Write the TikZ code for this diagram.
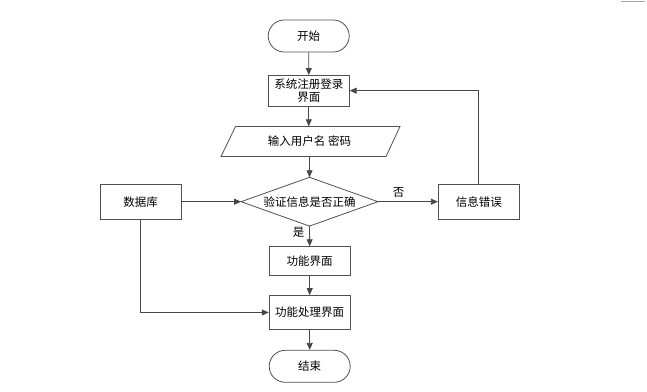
\documentclass[tikz,border=0pt]{standalone}
\usepackage{fontspec}
\setmainfont{Noto Sans CJK SC}
\usetikzlibrary{arrows.meta}
\definecolor{linec}{HTML}{474747}
\definecolor{boxc}{HTML}{505050}
\tikzset{
  box/.style={draw=boxc, line width=0.8pt, minimum width=81pt, inner sep=0pt, font=\fontsize{11.5}{15}\selectfont, align=center},
  term/.style={box, rounded corners=16pt, minimum height=32pt},
  conn/.style={draw=linec, line width=0.8pt, -{Triangle[length=7pt,width=6pt]}},
  lbl/.style={font=\fontsize{11.5}{13}\selectfont, inner sep=0pt}
}
\begin{document}
\begin{tikzpicture}[x=1pt,y=-1pt]
\useasboundingbox (0,0) rectangle (647,391);
\node[term] (start) at (308.7,36) {开始};
\node[box, minimum height=31pt, text width=78pt] (login) at (308.8,91) {系统注册登录\\[-2pt]界面};
\node[font=\fontsize{11.5}{13}\selectfont, minimum width=165pt, minimum height=30pt, inner sep=0pt] (input) at (309.5,141.5) {输入用户名 密码};
\draw[draw=boxc, line width=0.8pt] (235.5,126.5) -- (400,126.5) -- (386,156.5) -- (221,156.5) -- cycle;
\node[box, draw=none, minimum width=136pt, minimum height=48pt] (dec) at (309.5,201.7) {验证信息是否正确};
\draw[draw=boxc, line width=0.8pt] (dec.west) -- (dec.north) -- (dec.east) -- (dec.south) -- cycle;
\node[box, minimum height=35pt] (db) at (140.5,201.7) {数据库};
\node[box, minimum height=35pt] (err) at (478.8,201.7) {信息错误};
\node[box, minimum height=29pt] (func) at (309.7,261.2) {功能界面};
\node[box, minimum height=34pt] (proc) at (309.7,312.5) {功能处理界面};
\node[term] (end) at (309.7,366.3) {结束};
\coordinate (errtop) at (err.north);
\coordinate (c1) at (478.8,90.7);
\coordinate (c2) at (140.7,312.5);

\draw[conn] (start) -- (login);
\draw[conn] (login.south) -- (login.south |- input.north);
\draw[conn] (input.south -| dec.north) -- (dec.north);
\draw[conn] (db.east) -- (dec.west);
\draw[conn] (dec.east) -- (err.west);
\draw[conn] (errtop) -- (c1) -- (login.east |- c1);
\draw[conn] (dec.south) -- (func.north);
\draw[conn] (func) -- (proc);
\draw[conn] (db.south -| c2) -- (c2) -- (proc.west);
\draw[conn] (proc) -- (end);
\node[lbl] (no) at (398.5,192.5) {否};
\node[lbl] (yes) at (298.5,232) {是};
\draw[draw=gray!70, line width=0.6pt] (621,2.3) -- (621,0.8) -- (645,0.8);
\end{tikzpicture}
\end{document}
